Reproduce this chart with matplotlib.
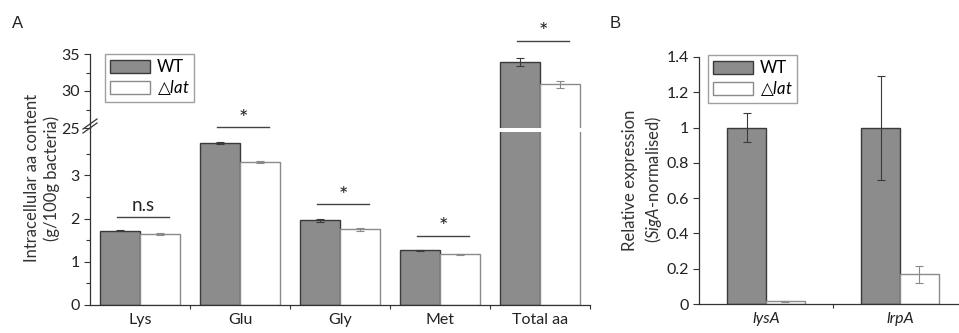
import matplotlib.pyplot as plt
from matplotlib.lines import Line2D
from matplotlib.patches import Patch
from matplotlib.ticker import FixedLocator

plt.rcParams['font.family'] = ['Lato', 'DejaVu Sans']
plt.rcParams['mathtext.fontset'] = 'custom'
plt.rcParams['mathtext.rm'] = 'DejaVu Sans'
plt.rcParams['mathtext.it'] = 'Lato:italic'

# panel A data
aa_names = ['Lys', 'Glu', 'Gly', 'Met', 'Total aa']
aa_wt = [1.72, 3.75, 1.96, 1.27, 33.9]
aa_wt_err = [0.02, 0.02, 0.03, 0.01, 0.5]
aa_lat = [1.65, 3.31, 1.75, 1.17, 30.9]
aa_lat_err = [0.02, 0.02, 0.03, 0.01, 0.5]
aa_sig = ['n.s', '*', '*', '*', '*']
aa_sig_y = [2.04, 4.11, 2.33, 1.6, 36.8]

# panel B data
gene_names = ['lysA', 'lrpA']
gene_wt = [1.0, 1.0]
gene_wt_err = [0.08, 0.295]
gene_lat = [0.015, 0.168]
gene_lat_err = [0.003, 0.05]
gene_ticks = [0, 0.2, 0.4, 0.6, 0.8, 1.0, 1.2, 1.4]
gene_tick_labels = ['0', '0.2', '0.4', '0.6', '0.8', '1', '1.2', '1.4']

W, H = 959, 333
fig = plt.figure(figsize=(W / 100, H / 100), dpi=100)

def fx(px):
    return px / W

def fy(py):
    return 1 - py / H

grey = '#8c8c8c'
dark = '#3a3a3a'
light = '#8a8a8a'

def draw_bars(ax, xs, wt, wt_err, lat, lat_err, w):
    ax.bar([x - w / 2 for x in xs], wt, w, color=grey, edgecolor=dark, linewidth=1)
    ax.bar([x + w / 2 for x in xs], lat, w, color='white', edgecolor=light, linewidth=1)
    ax.errorbar([x - w / 2 for x in xs], wt, yerr=wt_err, fmt='none', ecolor=dark,
                elinewidth=0.8, capsize=3, capthick=0.8)
    ax.errorbar([x + w / 2 for x in xs], lat, yerr=lat_err, fmt='none', ecolor=light,
                elinewidth=0.8, capsize=3, capthick=0.8)

def style(ax):
    ax.patch.set_visible(False)
    for s in ['top', 'right']:
        ax.spines[s].set_visible(False)
    for s in ['left', 'bottom']:
        ax.spines[s].set_color('#333333')
        ax.spines[s].set_linewidth(0.9)
    ax.tick_params(axis='y', direction='out', length=4, width=0.8, color='#333333',
                   labelsize=11.5, labelcolor='#222222')
    ax.tick_params(axis='y', which='minor', direction='out', length=3, width=0.8, color='#333333')

xs = list(range(len(aa_names)))
bw = 0.4

# panel A: lower part
axl = fig.add_axes([fx(90), fy(305), fx(590) - fx(90), fy(132) - fy(305)])
draw_bars(axl, xs, aa_wt, aa_wt_err, aa_lat, aa_lat_err, bw)
axl.set_xlim(-0.5, 4.5)
axl.set_ylim(0, 4)
style(axl)
axl.yaxis.set_major_locator(FixedLocator([0, 1, 2, 3]))
axl.yaxis.set_minor_locator(FixedLocator([0.5, 1.5, 2.5, 3.5]))
axl.set_xticks(xs)
axl.set_xticklabels(aa_names)
axl.xaxis.set_minor_locator(FixedLocator([0.5, 1.5, 2.5, 3.5, 4.5]))
axl.tick_params(axis='x', which='major', length=0, pad=6, labelsize=11.5, labelcolor='#222222')
axl.tick_params(axis='x', which='minor', direction='out', length=3, width=0.8, color='#333333')

# panel A: upper part
axu = fig.add_axes([fx(90), fy(128), fx(590) - fx(90), fy(54) - fy(128)], sharex=axl)
draw_bars(axu, xs, aa_wt, aa_wt_err, aa_lat, aa_lat_err, bw)
axu.set_ylim(25, 35)
style(axu)
axu.spines['bottom'].set_visible(False)
axu.yaxis.set_major_locator(FixedLocator([25, 30, 35]))
axu.yaxis.set_minor_locator(FixedLocator([27.5, 32.5]))
axu.tick_params(axis='x', which='both', bottom=False, labelbottom=False)

# spine across the break and break marks
fig.add_artist(Line2D([fx(90), fx(90)], [fy(132), fy(128)], color='#333333', lw=0.9))
for dy in (0, 4):
    fig.add_artist(Line2D([fx(83), fx(97)], [fy(133 - dy), fy(123 - dy)], color='#333333', lw=0.9))

# significance marks
for i, (lab, y) in enumerate(zip(aa_sig, aa_sig_y)):
    ax = axu if y > 10 else axl
    ax.plot([i - 0.23, i + 0.29], [y, y], color='#444444', lw=1, clip_on=False, zorder=5)
    if lab == '*':
        ax.annotate(lab, xy=(i + 0.03, y), xytext=(0, -1), textcoords='offset points',
                    ha='center', va='bottom', fontsize=16, color='#222222',
                    annotation_clip=False, zorder=5)
    else:
        ax.annotate(lab, xy=(i + 0.03, y), xytext=(0, 2), textcoords='offset points',
                    ha='center', va='bottom', fontsize=13.5, color='#222222',
                    annotation_clip=False, zorder=5)

fig.text(fx(42), fy(178), 'Intracellular aa content\n(g/100g bacteria)', rotation=90,
         ha='center', va='center', fontsize=12, color='#333333', linespacing=1.25)

handles = [Patch(facecolor=grey, edgecolor=dark, linewidth=1),
           Patch(facecolor='white', edgecolor=light, linewidth=1)]
labels = ['WT', '$\\mathrm{△}\\mathit{lat}$']
leg_kw = dict(loc='upper left', frameon=True, fancybox=False, edgecolor='#888888',
              fontsize=12, handlelength=2.4, handleheight=0.85, handletextpad=0.4,
              labelspacing=0.2, borderpad=0.3, borderaxespad=0)
legA = fig.legend(handles, labels, bbox_to_anchor=(fx(105), fy(54)), **leg_kw)
legA.get_frame().set_linewidth(1)

# panel B
gx = list(range(len(gene_names)))
gw = 0.29
axb = fig.add_axes([fx(699), fy(304), fx(967) - fx(699), fy(57) - fy(304)])
draw_bars(axb, gx, gene_wt, gene_wt_err, gene_lat, gene_lat_err, gw)
axb.set_xlim(-0.5, 1.5)
axb.set_ylim(0, 1.4)
style(axb)
axb.yaxis.set_major_locator(FixedLocator(gene_ticks))
axb.set_yticklabels(gene_tick_labels)
axb.set_xticks(gx)
axb.set_xticklabels(gene_names, fontstyle='italic')
axb.xaxis.set_minor_locator(FixedLocator([0.5, 1.5]))
axb.tick_params(axis='x', which='major', length=0, pad=6, labelsize=11.5, labelcolor='#222222')
axb.tick_params(axis='x', which='minor', direction='out', length=3, width=0.8, color='#333333')

fig.text(fx(643), fy(180), 'Relative expression\n($\\mathit{SigA}$-normalised)', rotation=90,
         ha='center', va='center', fontsize=12, color='#333333', linespacing=1.25)

legB = fig.legend(handles, labels, bbox_to_anchor=(fx(708), fy(55)), **leg_kw)
legB.get_frame().set_linewidth(1)

fig.text(fx(12), fy(24), 'A', fontsize=12, ha='left', va='center', color='#222222',
         family=['Liberation Sans', 'DejaVu Sans'])
fig.text(fx(610), fy(24), 'B', fontsize=12, ha='left', va='center', color='#222222',
         family=['Liberation Sans', 'DejaVu Sans'])

fig.savefig('out.png', dpi=100)
